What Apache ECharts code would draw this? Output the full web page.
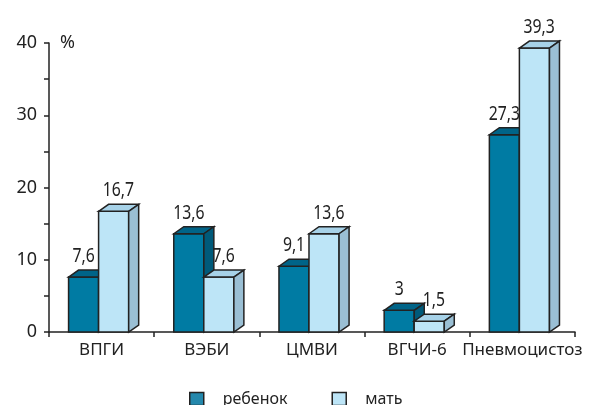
<!DOCTYPE html>
<html>
<head>
<meta charset="utf-8">
<script src="https://cdn.jsdelivr.net/npm/echarts@6/dist/echarts.min.js"></script>
<style>
  html, body { margin: 0; padding: 0; background: #fff; }
  #chart { width: 589px; height: 405px; }
</style>
</head>
<body>
<div id="chart"></div>
<script>
// Categories and values (%)
const categories = ['ВПГИ', 'ВЭБИ', 'ЦМВИ', 'ВГЧИ-6', 'Пневмоцистоз'];
const childValues = [7.6, 13.6, 9.1, 3, 27.3];
const motherValues = [16.7, 7.6, 13.6, 1.5, 39.3];
const seriesNames = ['ребенок', 'мать'];
const yTicks = { min: 0, max: 40, interval: 10 };

const UI_FONT = "'Noto Sans', 'DejaVu Sans', sans-serif";
const EDGE = '#222';

// Face colours for each series: front, top, side, legend swatch
const palettes = [
  { front: '#007BA3', top: '#006488', side: '#005A7A', swatch: '#2488AC' },
  { front: '#BDE5F7', top: '#A7D2E8', side: '#9ABFD4', swatch: '#BDE5F7' }
];

// Horizontal placement of each bar inside its category band (fractions of band width)
const barLayout = [
  { start: -0.314, labelShift: 0.0 },
  { start: -0.0286, labelShift: 0.045 }
];
const BAR_W = 0.286;   // bar width / band width
const DEPTH_X = 0.095; // 3D depth, x, / band width
const DEPTH_Y = 7;     // 3D depth, px up
const LABEL_SQUEEZE = 0.83; // narrow value labels

function fmt(v) { return String(v).replace('.', ','); }

function make3DBar(seriesIdx) {
  const pal = palettes[seriesIdx];
  const lay = barLayout[seriesIdx];
  return function (params, api) {
    const idx = api.value(0);
    const val = api.value(1);
    const top = api.coord([idx, val]);
    const base = api.coord([idx, 0]);
    const bw = api.size([1, 0])[0];
    const x0 = top[0] + lay.start * bw;
    const x1 = x0 + BAR_W * bw;
    const dx = DEPTH_X * bw;
    const dy = DEPTH_Y;
    const yt = top[1];
    const yb = base[1];
    const edge = { stroke: EDGE, lineWidth: 1.5, lineJoin: 'miter' };
    return {
      type: 'group',
      children: [
        { type: 'polygon', shape: { points: [[x0, yb], [x0, yt], [x1, yt], [x1, yb]] },
          style: Object.assign({ fill: pal.front }, edge) },
        { type: 'polygon', shape: { points: [[x0, yt], [x0 + dx, yt - dy], [x1 + dx, yt - dy], [x1, yt]] },
          style: Object.assign({ fill: pal.top }, edge) },
        { type: 'polygon', shape: { points: [[x1, yt], [x1 + dx, yt - dy], [x1 + dx, yb - dy], [x1, yb]] },
          style: Object.assign({ fill: pal.side }, edge) },
        { type: 'text',
          x: (x0 + x1) / 2 + lay.labelShift * bw,
          y: yt - dy - 4,
          scaleX: LABEL_SQUEEZE,
          style: {
            text: fmt(val),
            x: 0,
            y: 0,
            align: 'center',
            verticalAlign: 'bottom',
            fill: '#222',
            fontSize: 19,
            fontFamily: UI_FONT
          } }
      ]
    };
  };
}

function seriesData(values) {
  return values.map((v, i) => [i, v]);
}

const chart = echarts.init(document.getElementById('chart'), null, { renderer: 'canvas' });

chart.setOption({
  animation: false,
  backgroundColor: '#fff',
  grid: { left: 49, right: 14, top: 43, bottom: 73, containLabel: false },
  legend: {
    left: 189,
    top: 391,
    padding: 0,
    icon: 'rect',
    itemWidth: 14,
    itemHeight: 13,
    itemGap: 44,
    textStyle: { fontFamily: UI_FONT, fontSize: 16, lineHeight: 14, color: '#222', padding: [0, 0, 0, 14] },
    data: seriesNames.map((n, i) => ({
      name: n,
      itemStyle: { color: palettes[i].swatch, borderColor: EDGE, borderWidth: 1.5 }
    }))
  },
  xAxis: {
    type: 'category',
    data: categories,
    axisLine: { show: true, lineStyle: { color: EDGE, width: 1.5 } },
    axisTick: { show: true, length: 5, alignWithLabel: false, lineStyle: { color: EDGE, width: 1.5 } },
    axisLabel: { fontFamily: UI_FONT, fontSize: 17, color: '#222', margin: 10, interval: 0 },
    splitLine: { show: false }
  },
  yAxis: {
    type: 'value',
    min: yTicks.min,
    max: yTicks.max,
    interval: yTicks.interval,
    name: '%',
    nameLocation: 'end',
    nameGap: 0,
    nameTextStyle: { fontFamily: UI_FONT, fontSize: 18, color: '#222', align: 'left', verticalAlign: 'middle', padding: [0, 0, 0, 11] },
    axisLine: { show: true, lineStyle: { color: EDGE, width: 1.5 } },
    axisTick: { show: true, length: 5, lineStyle: { color: EDGE, width: 1.5 } },
    minorTick: { show: true, splitNumber: 2, length: 5, lineStyle: { color: EDGE, width: 1.5 } },
    axisLabel: { fontFamily: UI_FONT, fontSize: 18, color: '#222', margin: 12 },
    splitLine: { show: false }
  },
  series: [
    {
      name: seriesNames[0],
      type: 'custom',
      renderItem: make3DBar(0),
      itemStyle: { color: palettes[0].front },
      encode: { x: 0, y: 1 },
      clip: false,
      data: seriesData(childValues)
    },
    {
      name: seriesNames[1],
      type: 'custom',
      renderItem: make3DBar(1),
      itemStyle: { color: palettes[1].front },
      encode: { x: 0, y: 1 },
      clip: false,
      data: seriesData(motherValues)
    }
  ]
});
</script>
</body>
</html>
